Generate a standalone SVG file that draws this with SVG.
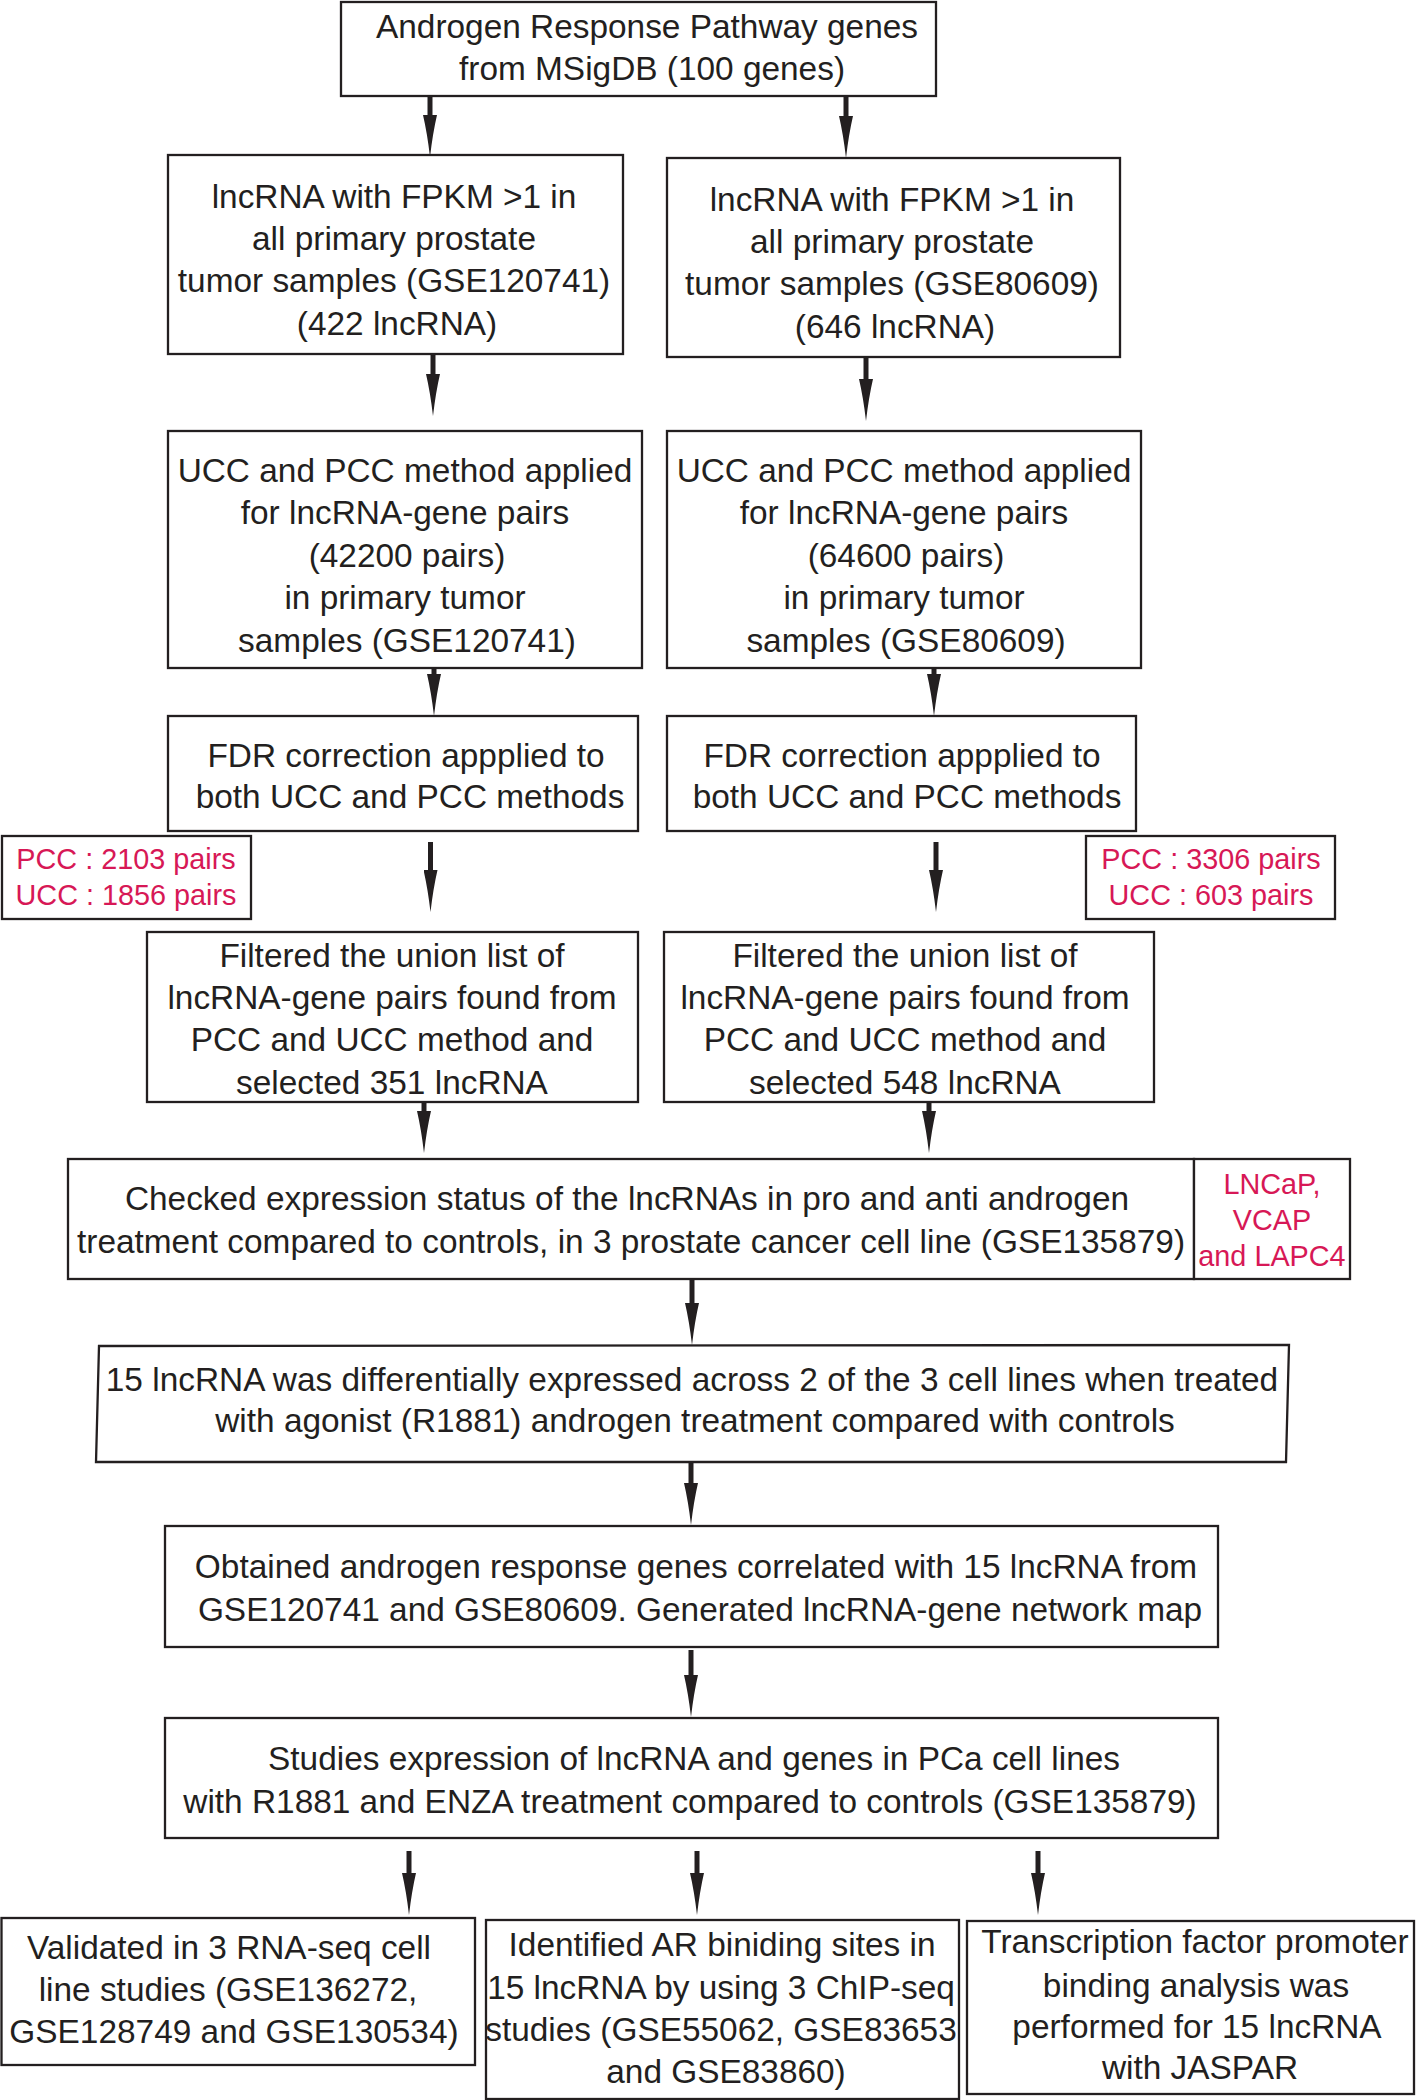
<svg xmlns="http://www.w3.org/2000/svg" width="1418" height="2100" viewBox="0 0 1418 2100">
<defs>
<style>
.box{fill:#ffffff;stroke:#231f20;stroke-width:2.3}
.t{font-family:"Liberation Sans",Arial,sans-serif;font-size:33.4px;fill:#231f20;text-anchor:middle}
.r{font-family:"Liberation Sans",Arial,sans-serif;font-size:28.8px;fill:#d71856;text-anchor:middle}
.a{stroke:#231f20;stroke-width:5;fill:none;marker-end:url(#ah)}
</style>
<marker id="ah" markerUnits="userSpaceOnUse" viewBox="0 0 42 14" refX="0" refY="7" markerWidth="42" markerHeight="14" orient="auto">
<path d="M0,0 Q18,4.2 42,7 Q18,9.8 0,14 Z" fill="#231f20"/>
</marker>
</defs>
<rect width="1418" height="2100" fill="#ffffff"/>

<g id="connectors">
<line class="a" x1="430" y1="96" x2="430" y2="115"/>
<line class="a" x1="846" y1="96" x2="846" y2="116"/>
<line class="a" x1="433" y1="354" x2="433" y2="374"/>
<line class="a" x1="866" y1="357" x2="866" y2="379"/>
<line class="a" x1="434" y1="668" x2="434" y2="674"/>
<line class="a" x1="934" y1="668" x2="934" y2="674"/>
<line class="a" x1="430.5" y1="842" x2="430.5" y2="870"/>
<line class="a" x1="936" y1="842" x2="936" y2="870"/>
<line class="a" x1="424" y1="1102" x2="424" y2="1111"/>
<line class="a" x1="929" y1="1102" x2="929" y2="1111"/>
<line class="a" x1="692" y1="1279" x2="692" y2="1303"/>
<line class="a" x1="691" y1="1462" x2="691" y2="1483"/>
<line class="a" x1="691" y1="1650" x2="691" y2="1675"/>
<line class="a" x1="409" y1="1851" x2="409" y2="1873"/>
<line class="a" x1="697" y1="1851" x2="697" y2="1873"/>
<line class="a" x1="1038" y1="1851" x2="1038" y2="1873"/>
</g>

<g id="n-top">
<rect class="box" x="341" y="2" width="595" height="94"/>
<text class="t" x="647" y="38">Androgen Response Pathway genes</text>
<text class="t" x="652" y="80">from MSigDB (100 genes)</text>
</g>

<g id="n-lnc-left">
<rect class="box" x="168" y="155" width="455" height="199"/>
<text class="t" x="394" y="208">lncRNA with FPKM &gt;1 in</text>
<text class="t" x="394" y="250">all primary prostate</text>
<text class="t" x="394" y="292">tumor samples (GSE120741)</text>
<text class="t" x="397" y="335">(422 lncRNA)</text>
</g>

<g id="n-lnc-right">
<rect class="box" x="667" y="158" width="453" height="199"/>
<text class="t" x="892" y="211">lncRNA with FPKM &gt;1 in</text>
<text class="t" x="892" y="253">all primary prostate</text>
<text class="t" x="892" y="295">tumor samples (GSE80609)</text>
<text class="t" x="895" y="338">(646 lncRNA)</text>
</g>

<g id="n-ucc-left">
<rect class="box" x="168" y="431" width="474" height="237"/>
<text class="t" x="405" y="482">UCC and PCC method applied</text>
<text class="t" x="405" y="524">for lncRNA-gene pairs</text>
<text class="t" x="407" y="567">(42200 pairs)</text>
<text class="t" x="405" y="609">in primary tumor</text>
<text class="t" x="407" y="652">samples (GSE120741)</text>
</g>

<g id="n-ucc-right">
<rect class="box" x="667" y="431" width="474" height="237"/>
<text class="t" x="904" y="482">UCC and PCC method applied</text>
<text class="t" x="904" y="524">for lncRNA-gene pairs</text>
<text class="t" x="906" y="567">(64600 pairs)</text>
<text class="t" x="904" y="609">in primary tumor</text>
<text class="t" x="906" y="652">samples (GSE80609)</text>
</g>

<g id="n-fdr-left">
<rect class="box" x="168" y="716" width="470" height="115"/>
<text class="t" x="406" y="767">FDR correction appplied to</text>
<text class="t" x="410" y="808">both UCC and PCC methods</text>
</g>

<g id="n-fdr-right">
<rect class="box" x="667" y="716" width="469" height="115"/>
<text class="t" x="902" y="767">FDR correction appplied to</text>
<text class="t" x="907" y="808">both UCC and PCC methods</text>
</g>

<g id="n-red-left">
<rect class="box" x="2" y="836" width="249" height="83"/>
<text class="r" x="126" y="869">PCC : 2103 pairs</text>
<text class="r" x="126" y="905">UCC : 1856 pairs</text>
</g>

<g id="n-red-right">
<rect class="box" x="1086" y="836" width="249" height="83"/>
<text class="r" x="1211" y="869">PCC : 3306 pairs</text>
<text class="r" x="1211" y="905">UCC : 603 pairs</text>
</g>

<g id="n-filter-left">
<rect class="box" x="147" y="932" width="491" height="170"/>
<text class="t" x="392" y="967">Filtered the union list of</text>
<text class="t" x="392" y="1009">lncRNA-gene pairs found from</text>
<text class="t" x="392" y="1051">PCC and UCC method and</text>
<text class="t" x="392" y="1094">selected 351 lncRNA</text>
</g>

<g id="n-filter-right">
<rect class="box" x="664" y="932" width="490" height="170"/>
<text class="t" x="905" y="967">Filtered the union list of</text>
<text class="t" x="905" y="1009">lncRNA-gene pairs found from</text>
<text class="t" x="905" y="1051">PCC and UCC method and</text>
<text class="t" x="905" y="1094">selected 548 lncRNA</text>
</g>

<g id="n-checked">
<rect class="box" x="68" y="1159" width="1126" height="120"/>
<text class="t" x="627" y="1210">Checked expression status of the lncRNAs in pro and anti androgen</text>
<text class="t" x="631" y="1253">treatment compared to controls, in 3 prostate cancer cell line (GSE135879)</text>
</g>

<g id="n-celllines">
<rect class="box" x="1194" y="1159" width="156" height="120"/>
<text class="r" x="1272" y="1194">LNCaP,</text>
<text class="r" x="1272" y="1230">VCAP</text>
<text class="r" x="1272" y="1266">and LAPC4</text>
</g>

<g id="n-15lnc">
<path class="box" d="M99,1346 L1289,1345 L1286,1462 L96,1462 Z"/>
<text class="t" x="692" y="1391">15 lncRNA was differentially expressed across 2 of the 3 cell lines when treated</text>
<text class="t" x="695" y="1432">with agonist (R1881) androgen treatment compared with controls</text>
</g>

<g id="n-obtained">
<rect class="box" x="165" y="1526" width="1053" height="121"/>
<text class="t" x="696" y="1578">Obtained androgen response genes correlated with 15 lncRNA from</text>
<text class="t" x="700" y="1621">GSE120741 and GSE80609. Generated lncRNA-gene network map</text>
</g>

<g id="n-studies">
<rect class="box" x="165" y="1718" width="1053" height="120"/>
<text class="t" x="694" y="1770">Studies expression of lncRNA and genes in PCa cell lines</text>
<text class="t" x="690" y="1813">with R1881 and ENZA treatment compared to controls (GSE135879)</text>
</g>

<g id="n-validated">
<rect class="box" x="1.5" y="1918" width="473.5" height="147"/>
<text class="t" x="229" y="1959">Validated in 3 RNA-seq cell</text>
<text class="t" x="228" y="2001">line studies (GSE136272,</text>
<text class="t" x="234" y="2043">GSE128749 and GSE130534)</text>
</g>

<g id="n-identified">
<rect class="box" x="486" y="1920" width="473" height="179"/>
<text class="t" x="722" y="1956">Identified AR biniding sites in</text>
<text class="t" x="721" y="1999">15 lncRNA by using 3 ChIP-seq</text>
<text class="t" x="721" y="2041">studies (GSE55062, GSE83653</text>
<text class="t" x="726" y="2083">and GSE83860)</text>
</g>

<g id="n-tf">
<rect class="box" x="967" y="1921" width="447" height="173"/>
<text class="t" x="1195" y="1953">Transcription factor promoter</text>
<text class="t" x="1196" y="1997">binding analysis was</text>
<text class="t" x="1197" y="2038">performed for 15 lncRNA</text>
<text class="t" x="1200" y="2079">with JASPAR</text>
</g>
</svg>
